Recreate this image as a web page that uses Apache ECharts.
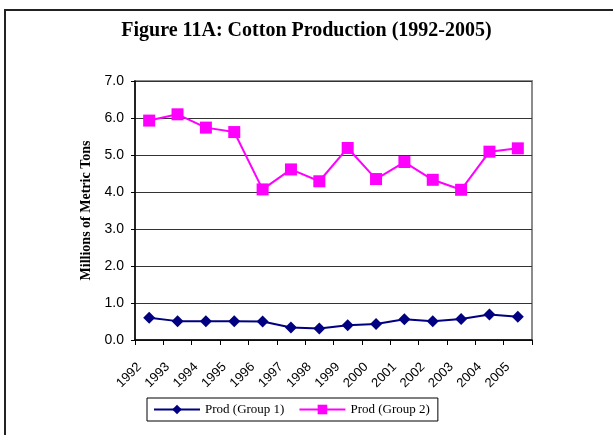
<!DOCTYPE html>
<html>
<head>
<meta charset="utf-8">
<script src="https://cdn.jsdelivr.net/npm/echarts@6/dist/echarts.min.js"></script>
<style>
  html, body { margin: 0; padding: 0; background: #fff; }
  #chart { width: 613px; height: 435px; }
</style>
</head>
<body>
<div id="chart"></div>
<script>
  // cotton production, millions of metric tons
  var years = ['1992', '1993', '1994', '1995', '1996', '1997', '1998',
               '1999', '2000', '2001', '2002', '2003', '2004', '2005']
  var group1 = [0.60, 0.51, 0.51, 0.51, 0.50, 0.34, 0.31, 0.40, 0.43, 0.56, 0.51, 0.57, 0.69, 0.63]
  var group2 = [5.93, 6.10, 5.74, 5.62, 4.07, 4.61, 4.29, 5.19, 4.35, 4.81, 4.33, 4.06, 5.09, 5.18]

  var serif = '"Liberation Serif", "DejaVu Serif", serif'
  var sans = '"Liberation Sans", Arial, sans-serif'

  var chart = echarts.init(document.getElementById('chart'))
  var option = {
    backgroundColor: '#fff',
    animation: false,
    title: {
      text: 'Figure 11A: Cotton Production (1992-2005)',
      left: 'center',
      top: 16,
      textStyle: { fontFamily: serif, fontSize: 20, fontWeight: 'bold', color: '#000' }
    },
    // outer frame of the figure
    graphic: [{
      type: 'rect',
      shape: { x: 5, y: 10, width: 620, height: 440 },
      style: { fill: 'none', stroke: '#222', lineWidth: 2 },
      z: -1
    }],
    legend: {
      left: 147,
      top: 398,
      itemWidth: 46,
      itemHeight: 12,
      itemGap: 14,
      padding: [5, 8, 5, 6],
      borderColor: '#000',
      borderWidth: 1,
      textStyle: { fontFamily: serif, fontSize: 13, color: '#000' },
      data: ['Prod (Group 1)', 'Prod (Group 2)']
    },
    grid: {
      left: 135,
      right: 81,
      top: 81,
      bottom: 95,
      show: true,
      borderColor: '#8c8c8c',
      borderWidth: 2
    },
    xAxis: {
      type: 'category',
      data: years,
      boundaryGap: true,
      axisLine: { lineStyle: { color: '#000', width: 1.5 } },
      axisTick: { show: true, length: 5, lineStyle: { color: '#000' } },
      axisLabel: {
        rotate: 45,
        margin: 15,
        padding: [0, 14, 0, 0],
        fontFamily: sans,
        fontSize: 13,
        color: '#000'
      }
    },
    yAxis: {
      type: 'value',
      min: 0,
      max: 7,
      interval: 1,
      name: 'Millions of Metric Tons',
      nameLocation: 'middle',
      nameGap: 40,
      nameTextStyle: { fontFamily: serif, fontSize: 14, fontWeight: 'bold', color: '#000' },
      axisLine: { show: true, lineStyle: { color: '#000', width: 1.5 } },
      axisTick: { show: true, length: 4, lineStyle: { color: '#000' } },
      axisLabel: {
        formatter: function(v) { return v.toFixed(1) },
        fontFamily: sans,
        fontSize: 14,
        color: '#000',
        margin: 11
      },
      splitLine: { show: true, lineStyle: { color: '#333', width: 1 } }
    },
    series: [{
      name: 'Prod (Group 1)',
      type: 'line',
      data: group1,
      symbol: 'diamond',
      symbolSize: 12,
      lineStyle: { color: '#000080', width: 2 },
      itemStyle: { color: '#000080' }
    }, {
      name: 'Prod (Group 2)',
      type: 'line',
      data: group2,
      symbol: 'rect',
      symbolSize: 12,
      lineStyle: { color: '#ff00ff', width: 2 },
      itemStyle: { color: '#ff00ff' }
    }]
  }
  chart.setOption(option)
</script>
</body>
</html>
